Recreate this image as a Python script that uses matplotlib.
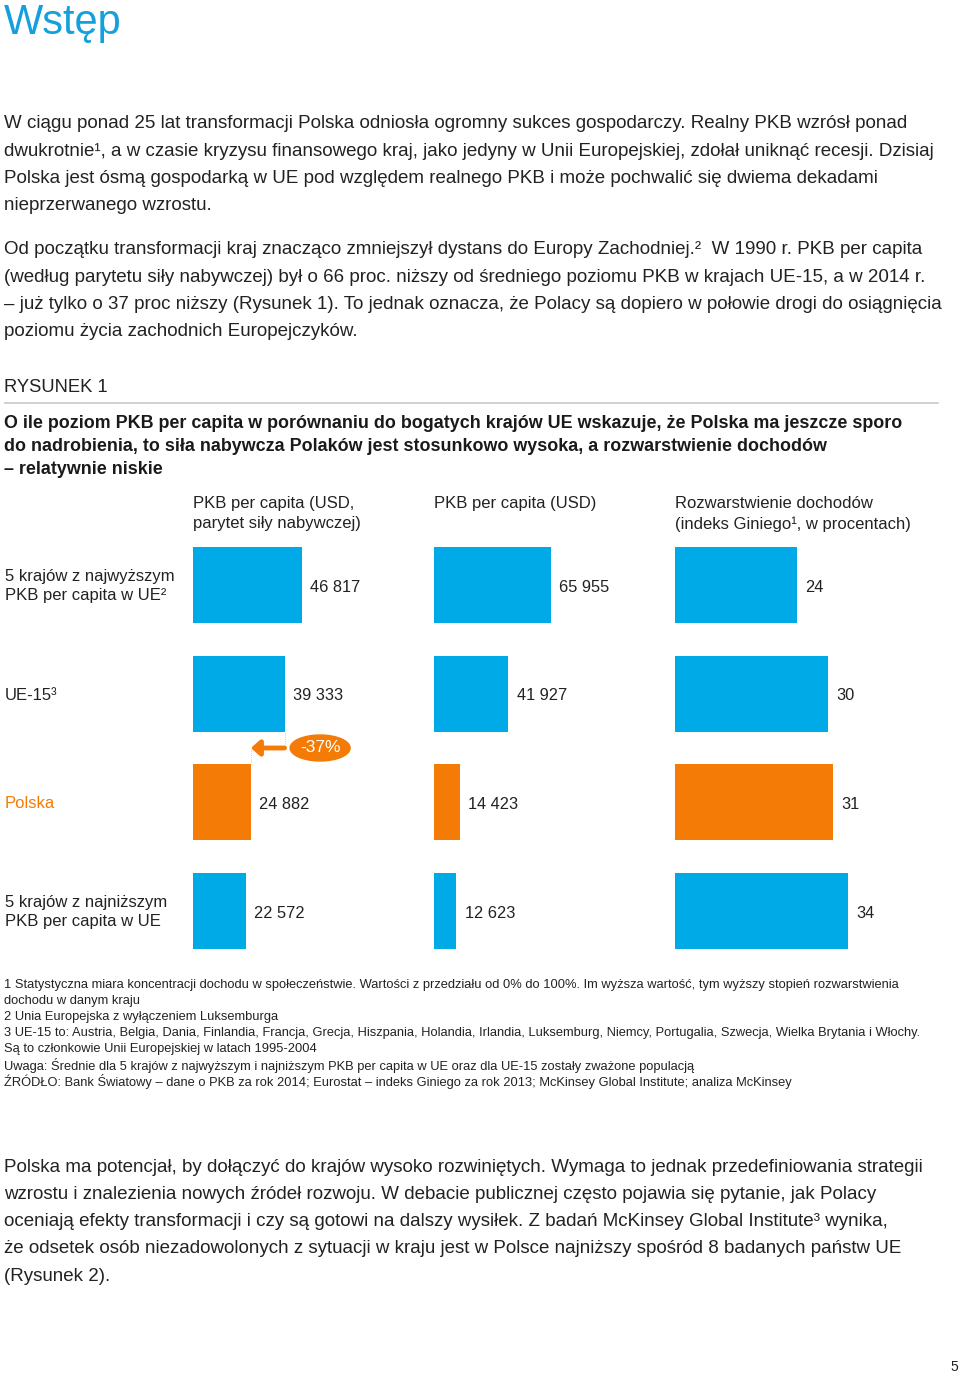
import matplotlib.pyplot as plt
from matplotlib.patches import Ellipse

plt.rcParams['font.family'] = ['Liberation Sans', 'DejaVu Sans']

W, H = 960, 1375
BLUE = '#00aae6'
ORANGE = '#f47b06'
TXT = '#222222'

# data
groups = ["5 krajów z najwyższym\nPKB per capita w UE²", "UE-15³", "Polska",
          "5 krajów z najniższym\nPKB per capita w UE"]
ppp = [46817, 39333, 24882, 22572]
gdp = [65955, 41927, 14423, 12623]
gini = [24, 30, 31, 34]
headers = ["PKB per capita (USD,\nparytet siły nabywczej)", "PKB per capita (USD)",
           "Rozwarstwienie dochodów\n(indeks Giniego¹, w procentach)"]
row_colors = [BLUE, BLUE, ORANGE, BLUE]

para1 = ["W ciągu ponad 25 lat transformacji Polska odniosła ogromny sukces gospodarczy. Realny PKB wzrósł ponad",
         "dwukrotnie¹, a w czasie kryzysu finansowego kraj, jako jedyny w Unii Europejskiej, zdołał uniknąć recesji. Dzisiaj",
         "Polska jest ósmą gospodarką w UE pod względem realnego PKB i może pochwalić się dwiema dekadami",
         "nieprzerwanego wzrostu."]
para2 = ["Od początku transformacji kraj znacząco zmniejszył dystans do Europy Zachodniej.²  W 1990 r. PKB per capita",
         "(według parytetu siły nabywczej) był o 66 proc. niższy od średniego poziomu PKB w krajach UE-15, a w 2014 r.",
         "– już tylko o 37 proc niższy (Rysunek 1). To jednak oznacza, że Polacy są dopiero w połowie drogi do osiągnięcia",
         "poziomu życia zachodnich Europejczyków."]
title_lines = ["O ile poziom PKB per capita w porównaniu do bogatych krajów UE wskazuje, że Polska ma jeszcze sporo",
               "do nadrobienia, to siła nabywcza Polaków jest stosunkowo wysoka, a rozwarstwienie dochodów",
               "– relatywnie niskie"]
notes = ["1 Statystyczna miara koncentracji dochodu w społeczeństwie. Wartości z przedziału od 0% do 100%. Im wyższa wartość, tym wyższy stopień rozwarstwienia",
         "dochodu w danym kraju",
         "2 Unia Europejska z wyłączeniem Luksemburga",
         "3 UE-15 to: Austria, Belgia, Dania, Finlandia, Francja, Grecja, Hiszpania, Holandia, Irlandia, Luksemburg, Niemcy, Portugalia, Szwecja, Wielka Brytania i Włochy.",
         "Są to członkowie Unii Europejskiej w latach 1995-2004",
         "Uwaga: Średnie dla 5 krajów z najwyższym i najniższym PKB per capita w UE oraz dla UE-15 zostały zważone populacją",
         "ŹRÓDŁO: Bank Światowy – dane o PKB za rok 2014; Eurostat – indeks Giniego za rok 2013; McKinsey Global Institute; analiza McKinsey"]
para3 = ["Polska ma potencjał, by dołączyć do krajów wysoko rozwiniętych. Wymaga to jednak przedefiniowania strategii",
         "wzrostu i znalezienia nowych źródeł rozwoju. W debacie publicznej często pojawia się pytanie, jak Polacy",
         "oceniają efekty transformacji i czy są gotowi na dalszy wysiłek. Z badań McKinsey Global Institute³ wynika,",
         "że odsetek osób niezadowolonych z sytuacji w kraju jest w Polsce najniższy spośród 8 badanych państw UE",
         "(Rysunek 2)."]

fig = plt.figure(figsize=(W / 100, H / 100), dpi=100)


def put(x, y, s, **kw):
    kw.setdefault('va', 'center')
    kw.setdefault('color', TXT)
    fig.text(x / W, 1 - y / H, s, **kw)


put(4, 23, "Wstęp", fontsize=30, color='#14a0dc')

BODY = 13.5
for i, s in enumerate(para1):
    put(4, 124 + i * 27.3, s, fontsize=BODY)
for i, s in enumerate(para2):
    put(4, 250 + i * 27.3, s, fontsize=BODY)

put(4, 388, "RYSUNEK 1", fontsize=13.2)
fig.add_artist(plt.Line2D([5 / W, 938 / W], [1 - 403 / H] * 2, color='#c8c8c8', lw=1.2))
for i, s in enumerate(title_lines):
    put(4, 424 + i * 22.5, s, fontsize=12.85, fontweight='bold', color='#1a1a1a')

# row labels
row_y = [585, 694, 802.5, 911]
for g, y, c in zip(groups, row_y, row_colors):
    put(5, y + 1, g, fontsize=12, color=ORANGE if c == ORANGE else TXT, linespacing=1.3)

# three panels: left px, width px, px per unit
panels = [(193, 230, 109 / 46817, ppp), (434, 230, 117 / 65955, gdp), (675, 270, 5.09, gini)]
row_step = 108.67
top = row_y[0] - 0.5 * row_step
bot = row_y[-1] + 0.5 * row_step
axes = []
for (left, wpx, scale, vals), head in zip(panels, headers):
    put(left, 496, head, fontsize=12, linespacing=1.4, va='top')
    ax = fig.add_axes([left / W, 1 - bot / H, wpx / W, (bot - top) / H])
    ax.barh(range(4), vals, height=0.7, color=row_colors)
    ax.set_xlim(0, wpx / scale)
    ax.set_ylim(3.5, -0.5)
    ax.axis('off')
    for i, v in enumerate(vals):
        ax.annotate(f"{v:,}".replace(",", " "), (v, i), xytext=(6, -1.5), textcoords='offset points',
                    va='center', ha='left', fontsize=11.8, color=TXT)
    axes.append(ax)

# -37% arrow between UE-15 and Polska
ax = axes[0]
ax.plot([ppp[1]] * 2, [1.35, 1.5], color='#bbbbbb', lw=0.6, ls=':')
ax.plot([ppp[2]] * 2, [1.5, 1.65], color='#bbbbbb', lw=0.6, ls=':')
ax.annotate('', xy=(ppp[2], 1.5), xytext=(ppp[1], 1.5),
            arrowprops=dict(arrowstyle='-|>,head_length=0.5,head_width=0.45', color=ORANGE, lw=3.5,
                            shrinkA=0, shrinkB=0))
cx = 54600
ax.add_patch(Ellipse((cx, 1.5), 60 / panels[0][2], 26 / row_step, color=ORANGE, clip_on=False))
diff = round((ppp[2] / ppp[1] - 1) * 100)
ax.text(cx, 1.5, f"{diff}%", ha='center', va='center', color='white', fontsize=12.5)

for i, s in enumerate(notes):
    put(4, 985 + i * 16.1, s, fontsize=9.25)

for i, s in enumerate(para3):
    put(4, 1167 + i * 27.3, s, fontsize=BODY)

put(958, 1367, "5", fontsize=10, ha='right')

fig.savefig('out.png', dpi=100)
